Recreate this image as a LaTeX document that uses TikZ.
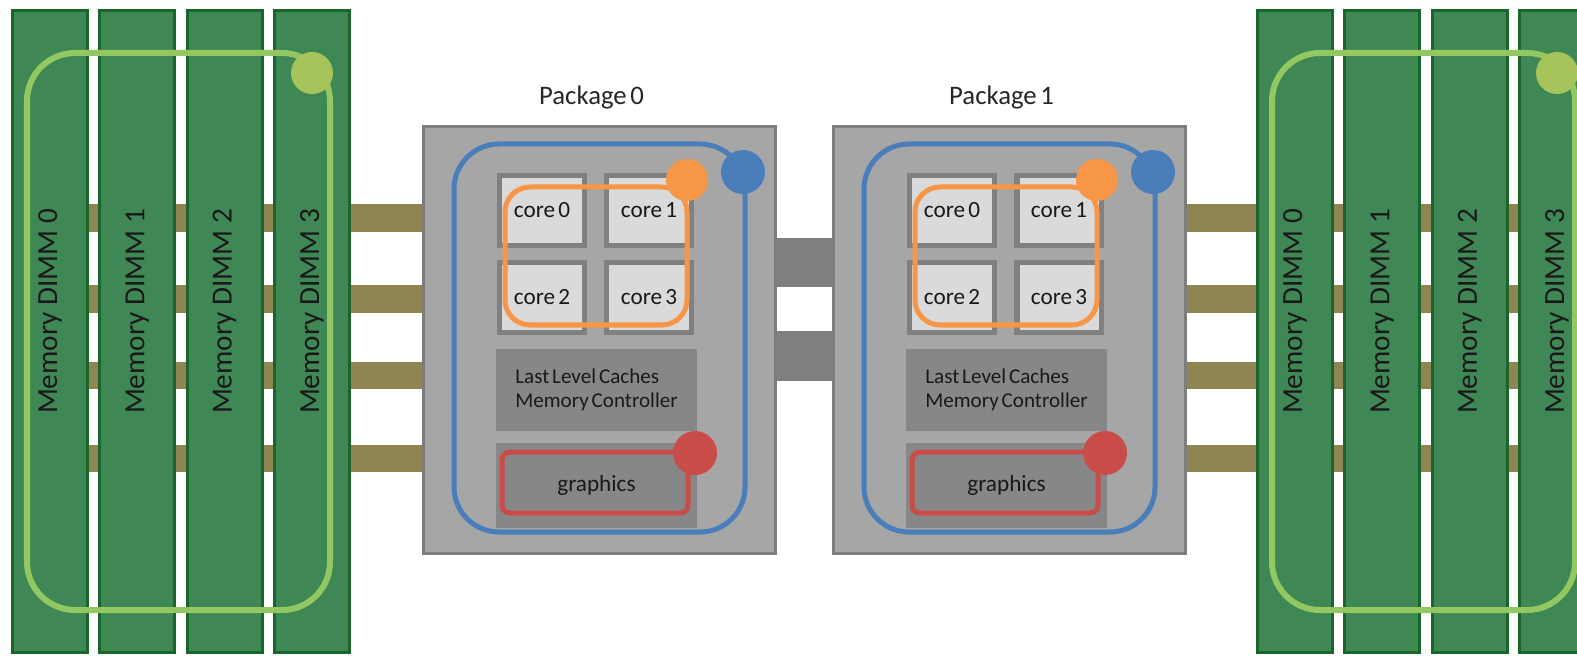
\documentclass[tikz,border=0pt]{standalone}
\usepackage{fontspec}
\setmainfont{Carlito}
\newfontfamily\tightfont{Carlito}[WordSpace=0.6]
\usetikzlibrary{positioning}
\usetikzlibrary{calc}
\definecolor{dimmfill}{RGB}{64,135,86}
\definecolor{dimmdraw}{RGB}{24,102,42}
\definecolor{busolive}{RGB}{143,133,82}
\definecolor{pkgfill}{RGB}{166,166,166}
\definecolor{pkgdraw}{RGB}{125,125,125}
\definecolor{corefill}{RGB}{218,218,218}
\definecolor{coredraw}{RGB}{128,128,128}
\definecolor{blockfill}{RGB}{135,135,135}
\definecolor{linkgray}{RGB}{128,128,128}
\definecolor{ringgreen}{RGB}{147,199,98}
\definecolor{dotgreen}{RGB}{166,196,90}
\definecolor{ringblue}{RGB}{74,126,187}
\definecolor{ringorange}{RGB}{247,150,70}
\definecolor{ringred}{RGB}{200,77,73}
\pgfdeclarelayer{background}
\pgfsetlayers{background,main}
\tikzset{
  dimm/.style={draw=dimmdraw, line width=0.03cm, fill=dimmfill, minimum width=0.75cm, minimum height=6.41cm, inner sep=0pt},
  dimmtxt/.style={rotate=90, font=\fontsize{8.3}{9}\selectfont, text=black!90},
  pkg/.style={draw=pkgdraw, line width=0.03cm, fill=pkgfill, minimum width=3.52cm, minimum height=4.27cm, inner sep=0pt},
  pkgtxt/.style={font=\tightfont\fontsize{7.6}{9}\selectfont, text=black!85},
  core/.style={draw=coredraw, line width=0.05cm, fill=corefill, minimum width=0.84cm, minimum height=0.70cm, inner sep=0pt, font=\tightfont\fontsize{6.6}{7}\selectfont, text=black!90},
  block/.style={fill=blockfill, minimum width=2.01cm, inner sep=0pt, font=\tightfont\fontsize{6.6}{7.2}\selectfont, text=black!90},
  bus/.style={draw=busolive, line width=0.27cm},
  link/.style={draw=linkgray, line width=0.49cm},
  greenring/.style={draw=ringgreen, line width=0.06cm, rounded corners=0.48cm},
  bluering/.style={draw=ringblue, line width=0.05cm, rounded corners=0.45cm},
  orangering/.style={draw=ringorange, line width=0.05cm, rounded corners=0.25cm},
  redring/.style={draw=ringred, line width=0.05cm, rounded corners=0.08cm},
}

\begin{document}
\begin{tikzpicture}[x=0.01cm, y=-0.01cm]
  \useasboundingbox (0,0) rectangle (1577,655);
  \clip (0,0) rectangle (1577,655);
  % memory DIMMs, left and right
  \foreach \g/\gx in {l/50, r/1295}{
    \foreach \i in {0,...,3}{
      \node[dimm] (\g\i) at (\gx+87.3*\i, 331.5) {};
      \node[dimmtxt] (\g\i t) at ($(\g\i.center)+(0,-20)$) {Memory DIMM \i};
    }
  }
  \foreach \gx in {0,1245}{
    \draw[greenring] (\gx+27,53) rectangle (\gx+330,610);
    \fill[dotgreen] (\gx+312,73) circle (0.21cm);
  }
  % packages
  \foreach \k in {0,1}{
    \node[pkg] (pk\k) at (599.5+410*\k, 340) {};
    \node[pkgtxt] (pl\k) at ($(pk\k.north)+(-8,-27)$) {Package \k};
    \draw[bluering] ($(pk\k)+(-145.5,-196)$) rectangle ($(pk\k)+(145.5,192)$);
    \fill[ringblue] ($(pk\k)+(143.5,-168)$) circle (0.22cm);
    \foreach \n/\dx/\dy in {0/-57.5/-129.5, 1/49.5/-129.5, 2/-57.5/-42.5, 3/49.5/-42.5}
      \node[core] (c\k\n) at ($(pk\k)+(\dx,\dy)$) {core \n};
    \node[block, minimum height=0.82cm, align=left, font=\tightfont\fontsize{6}{7}\selectfont] (llc\k) at ($(pk\k)+(-3,50)$) {Last Level Caches\\Memory Controller};
    \node[block, minimum height=0.85cm] (gfx\k) at ($(pk\k)+(-3,145.5)$) {graphics};
    \draw[orangering] ($(pk\k)+(-94.5,-153)$) rectangle ($(pk\k)+(87.5,-15)$);
    \fill[ringorange] ($(pk\k)+(87.5,-160)$) circle (0.21cm);
    \draw[redring] ($(pk\k)+(-97.5,112)$) rectangle ($(pk\k)+(88.5,173)$);
    \fill[ringred] ($(pk\k)+(95.5,113)$) circle (0.22cm);
  }
  % memory buses and package links
  \begin{pgfonlayer}{background}
    \foreach \y in {218,299,375.5,458.5}{
      \coordinate (by) at (0,\y);
      \draw[bus] (l0.center |- by) -- (pk0.west |- by);
      \draw[bus] (pk1.east |- by) -- (r3.center |- by);
    }
    \foreach \y in {262.5,356}{
      \coordinate (ly) at (0,\y);
      \draw[link] (pk0.east |- ly) -- (pk1.west |- ly);
    }
  \end{pgfonlayer}
\end{tikzpicture}
\end{document}
